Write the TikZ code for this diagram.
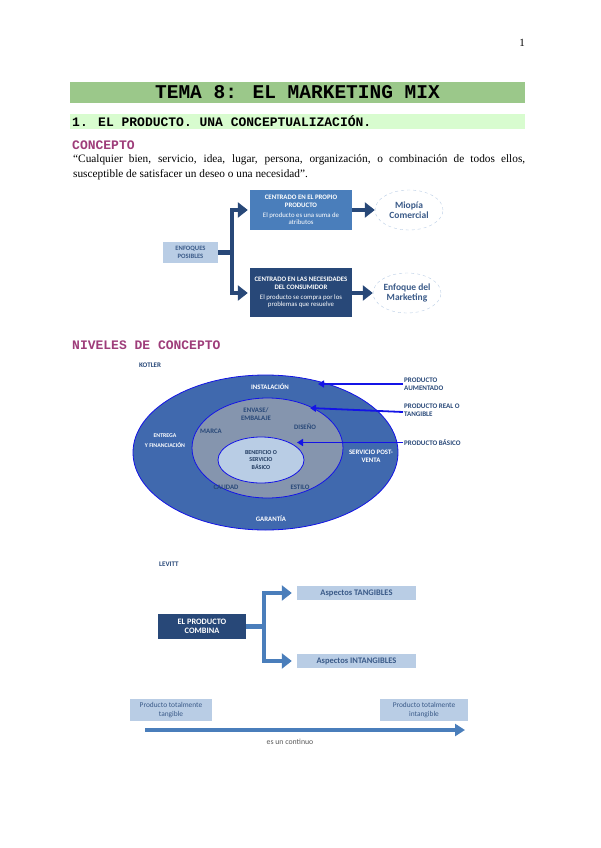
\documentclass[tikz,border=0pt]{standalone}
\usepackage{fontspec}
\setmainfont{Liberation Serif}
\newfontfamily\monofuente{Liberation Mono}
\newfontfamily\califuente{Carlito}
\usetikzlibrary{arrows.meta,positioning,shapes.geometric}

\definecolor{verdetitulo}{HTML}{9BC88A}
\definecolor{verdesub}{HTML}{D8FCCF}
\definecolor{rosatitulo}{HTML}{9E3D7A}
\definecolor{azulclaro}{HTML}{B9CDE5}
\definecolor{azulmedio}{HTML}{4A7EBB}
\definecolor{azuloscuro}{HTML}{284878}
\definecolor{azultexto}{HTML}{3A5A88}
\definecolor{azulkotler}{HTML}{4069AE}
\definecolor{grisazul}{HTML}{8595AE}
\definecolor{azulpuro}{HTML}{1414E6}

\begin{document}
\begin{tikzpicture}[x=1pt, y=-1pt,
        banda/.style={fill=#1, minimum width=455pt, inner sep=0pt},
        apartado/.style={anchor=west, inner sep=0pt, text=rosatitulo, font=\monofuente\bfseries\fontsize{13}{13}\selectfont},
        caja/.style={fill=#1, align=center, inner sep=1pt, font=\califuente\bfseries\fontsize{6.8}{7.8}\selectfont},
        nube/.style={ellipse, draw=azulclaro, dashed, fill=white, minimum width=68pt, minimum height=40pt, inner sep=0pt, align=center, text=azultexto, font=\califuente\bfseries\fontsize{9.5}{10.5}\selectfont},
        nivel/.style={ellipse, draw=azulpuro, line width=0.8pt, fill=#1},
        etiq/.style={align=center, inner sep=0pt, font=\califuente\bfseries\fontsize{6.8}{8}\selectfont},
        rotulo/.style={anchor=west, align=left, inner sep=1pt, text=azuloscuro, font=\califuente\bfseries\fontsize{7}{8.5}\selectfont},
        tronco/.style={draw=#1, line width=4.5pt, -{Triangle[length=10pt, width=15pt]}},
        senal/.style={draw=azulpuro, line width=1.8pt, -{Triangle[length=6pt, width=7pt]}}
    ]
        \useasboundingbox (0,0) rectangle (600,848);

        \node (pagina) at (522,43) {\fontsize{11}{11}\selectfont 1};
        \node[banda=verdetitulo, minimum height=21pt] (tema) at (297.5,92.5)
            {\monofuente\bfseries\fontsize{19.5}{20}\selectfont TEMA 8: EL MARKETING MIX};
        \node[banda=verdesub, minimum height=15pt] (subtema) at (297.5,121.5) {};
        \node[anchor=west, inner sep=0pt, font=\monofuente\bfseries\fontsize{13}{13}\selectfont] (subtema-txt) at (72,121.5)
            {1. EL PRODUCTO. UNA CONCEPTUALIZACIÓN.};
        \node[apartado] (concepto) at (72,145) {CONCEPTO};
        \node[anchor=north west, inner sep=0pt, align=left, font=\fontsize{11.3}{15}\selectfont] (cita) at (73,154)
            {\makebox[452pt][s]{“Cualquier bien, servicio, idea, lugar, persona, organización, o combinación de todos ellos,}\\
             susceptible de satisfacer un deseo o una necesidad”.};

        \node[caja=azulclaro, text=azultexto, minimum width=55pt, minimum height=21pt, font=\califuente\bfseries\fontsize{6.6}{7.6}\selectfont] (enfoques) at (190.5,252.5) {ENFOQUES\\POSIBLES};
        \node[caja=azulmedio, text=white, minimum width=102pt, minimum height=40pt] (propio) at (301,210)
            {CENTRADO EN EL PROPIO\\PRODUCTO\\[2pt]{\mdseries El producto es una suma de}\\{\mdseries atributos}};
        \node[caja=azuloscuro, text=white, minimum width=102pt, minimum height=49pt] (consumidor) at (301,292.5)
            {CENTRADO EN LAS NECESIDADES\\DEL CONSUMIDOR\\[2pt]{\mdseries El producto se compra por los}\\{\mdseries problemas que resuelve}};
        \node[nube] (miopia) at (409,210) {Miopía\\Comercial};
        \node[nube] (marketing) at (407,293) {Enfoque del\\Marketing};

        \draw[tronco=azuloscuro, shorten >=2pt] (enfoques.east) -- ++(14,0) |- (propio.west);
        \draw[tronco=azuloscuro, shorten >=2pt] (enfoques.east) -- ++(14,0) |- (consumidor.west |- marketing.center);
        \draw[tronco=azuloscuro] (propio.east) -- (miopia.west);
        \draw[tronco=azuloscuro] (consumidor.east |- marketing.center) -- (marketing.west);

        \node[apartado] (niveles) at (72,345) {NIVELES DE CONCEPTO};
        \node[rotulo] (kotler) at (138,365) {KOTLER};

        \node[nivel=azulkotler, minimum width=265pt, minimum height=155pt] (aumentado) at (265.5,452.5) {};
        \node[nivel=grisazul, minimum width=151pt, minimum height=100pt] (real) at (267.5,448) {};
        \node[nivel=azulclaro, minimum width=86pt, minimum height=46pt, etiq, font=\califuente\bfseries\fontsize{6}{7.5}\selectfont, text=azuloscuro!80!black] (basico) at (261,460)
            {BENEFICIO O\\SERVICIO\\BÁSICO};

        \node[etiq, text=white] (instalacion) at (270,387) {INSTALACIÓN};
        \node[etiq, text=white, font=\califuente\bfseries\fontsize{5.8}{7}\selectfont] (entrega) at (165,441) {ENTREGA\\[3pt]Y FINANCIACIÓN};
        \node[etiq, text=white] (postventa) at (371,456) {SERVICIO POST-\\VENTA};
        \node[etiq, text=white] (garantia) at (271,519) {GARANTÍA};
        \node[etiq, text=azuloscuro] (envase) at (256,414) {ENVASE/\\EMBALAJE};
        \node[etiq, text=azuloscuro] (marca) at (211,431) {MARCA};
        \node[etiq, text=azuloscuro] (diseno) at (305,427) {DISEÑO};
        \node[etiq, text=azuloscuro] (calidad) at (226,487) {CALIDAD};
        \node[etiq, text=azuloscuro] (estilo) at (300,487) {ESTILO};

        \node[rotulo] (p-aumentado) at (403,384) {PRODUCTO\\AUMENTADO};
        \node[rotulo] (p-real) at (403,410) {PRODUCTO REAL O\\TANGIBLE};
        \node[rotulo] (p-basico) at (403,442.5) {PRODUCTO BÁSICO};
        \coordinate (toque-aumentado) at (318,384);
        \coordinate (toque-real) at (310,408);
        \coordinate (toque-basico) at (297,442.5);
        \draw[senal] (p-aumentado.west) -- (toque-aumentado);
        \draw[senal] ([yshift=-2pt]p-real.west) -- (toque-real);
        \draw[senal] (p-basico.west) -- (toque-basico);

        \node[rotulo] (levitt) at (158,564) {LEVITT};
        \node[caja=azuloscuro, text=white, minimum width=88pt, minimum height=25pt, font=\califuente\bfseries\fontsize{8.3}{9.5}\selectfont] (combina) at (202,626.5)
            {EL PRODUCTO\\COMBINA};
        \node[caja=azulclaro, text=azultexto, minimum width=119pt, minimum height=14pt, font=\califuente\bfseries\fontsize{8.5}{9}\selectfont] (tangibles) at (356.5,593)
            {Aspectos TANGIBLES};
        \node[caja=azulclaro, text=azultexto, minimum width=119pt, minimum height=14pt, font=\califuente\bfseries\fontsize{8.5}{9}\selectfont] (intangibles) at (356.5,661)
            {Aspectos INTANGIBLES};
        \draw[tronco=azulmedio, shorten >=5pt] (combina.east) -- ++(18,0) |- (tangibles.west);
        \draw[tronco=azulmedio, shorten >=5pt] (combina.east) -- ++(18,0) |- (intangibles.west);

        \node[caja=azulclaro, text=azultexto, minimum width=82pt, minimum height=22pt, font=\califuente\fontsize{7.4}{8.6}\selectfont] (tangible) at (171,710)
            {Producto totalmente\\tangible};
        \node[caja=azulclaro, text=azultexto, minimum width=88pt, minimum height=22pt, font=\califuente\fontsize{7.4}{8.6}\selectfont] (intangible) at (424,710)
            {Producto totalmente\\intangible};
        \coordinate (inicio) at (145,730);
        \coordinate (fin) at (465,730);
        \draw[draw=azulmedio, line width=3.5pt, -{Triangle[length=10pt, width=12pt]}] (inicio) -- (fin);
        \node[inner sep=0pt, text=black!65, font=\califuente\fontsize{7.8}{9}\selectfont] (continuo) at (290,742) {es un continuo};
    \end{tikzpicture}
\end{document}
